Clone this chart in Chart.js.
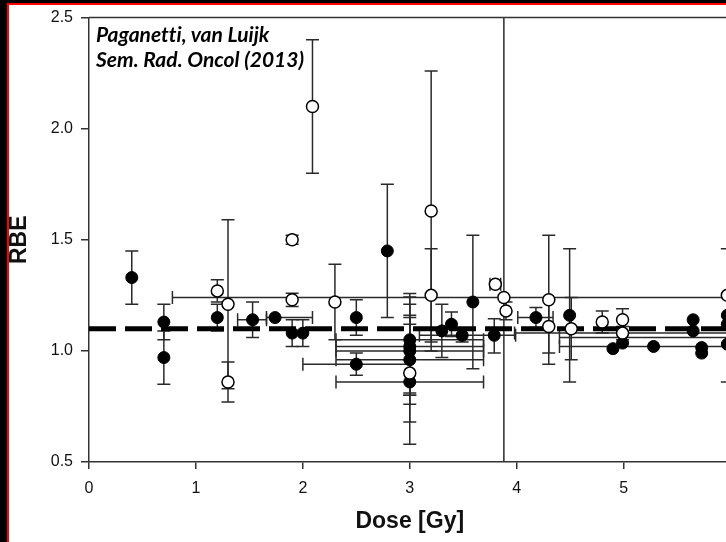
<!DOCTYPE html>
<html>
<head>
<meta charset="utf-8">
<script src="https://cdn.jsdelivr.net/npm/chart.js@4.4.1/dist/chart.umd.min.js"></script>
<style>
  html, body { margin:0; padding:0; background:#000; width:726px; height:542px; overflow:hidden; }
  #frame { position:absolute; left:7px; top:3px; width:760px; height:560px; background:#fff; border:2px solid #ff0000; box-sizing:border-box; }
  #wrap { position:absolute; left:0; top:0; width:745px; height:542px; }
  #note { position:absolute; left:96px; top:21px; font-family:Lato, "Open Sans", sans-serif; font-weight:700; font-style:italic; font-size:21px; line-height:25px; color:#000; white-space:nowrap; font-variant-ligatures:none; }
</style>
</head>
<body>
<div id="frame"></div>
<div id="wrap"><canvas id="c" width="745" height="542"></canvas></div>
<div id="note">Paganetti, van Luijk<br>Sem. Rad. Oncol (2013)</div>
<script>
// ---- data ----
const xTicks = [0, 1, 2, 3, 4, 5, 6];
const yTicks = [0.5, 1.0, 1.5, 2.0, 2.5];
const referenceRBE = 1.1;

// filled circles
const filledDose = [0.40, 0.70, 0.70, 1.20, 1.53, 1.74, 1.90, 2.00, 2.50, 2.50, 2.79, 3.00, 3.00, 3.00, 3.00, 3.00, 3.30, 3.39, 3.49, 3.59, 3.79, 4.18, 4.495, 4.90, 4.99, 5.28, 5.65, 5.65, 5.73, 5.73, 5.97, 5.97, 5.97, 6.30];
const filledRBE  = [1.33, 1.13, 0.97, 1.15, 1.14, 1.15, 1.08, 1.08, 0.94, 1.15, 1.45, 1.05, 1.02, 1.00, 0.96, 0.86, 1.09, 1.12, 1.07, 1.22, 1.07, 1.15, 1.16, 1.01, 1.035, 1.02, 1.14, 1.09, 1.015, 0.99, 1.16, 1.12, 1.03, 1.06];
const filledLow  = [1.21, 1.05, 0.85, 1.09, 1.06, null, 1.02, 1.02, 0.89, 1.07, 1.15, 0.81, 0.80, 0.80, 0.76, 0.58, 0.97, 1.065, 1.04, 0.92, 0.99, 1.105, 0.86, null, null, null, null, null, null, null, 0.86, null, null, null];
const filledHigh = [1.45, 1.21, 1.09, 1.21, 1.22, null, 1.14, 1.14, 0.99, 1.23, 1.75, 1.258, 1.243, 1.21, 1.16, 1.15, 1.21, 1.175, 1.10, 1.52, 1.145, 1.195, 1.46, null, null, null, null, null, null, null, 1.46, null, null, null];
const filledXLow = [null, null, null, null, 1.39, 1.66, null, null, 2.00, null, null, 2.31, 2.31, 2.31, 2.31, 2.31, null, null, 3.09, null, null, 4.01, null, null, null, 4.40, null, null, null, null, null, null, null, 4.40];
const filledXHigh= [null, null, null, null, 1.66, 2.09, null, null, 3.00, null, null, 3.69, 3.69, 3.69, 3.69, 3.69, null, null, 3.99, null, null, 4.34, null, null, null, 6.16, null, null, null, null, null, null, null, 8.20];

// open circles
const openDose = [1.20, 1.30, 1.30, 1.90, 1.90, 2.09, 2.30, 3.00, 3.20, 3.20, 3.80, 3.88, 3.90, 4.30, 4.30, 4.51, 4.80, 4.99, 4.99, 5.97];
const openRBE  = [1.27, 1.21, 0.86, 1.50, 1.23, 2.10, 1.22, 0.90, 1.63, 1.25, 1.30, 1.24, 1.18, 1.23, 1.11, 1.10, 1.13, 1.14, 1.08, 1.25];
const openLow  = [1.22, 0.83, 0.77, 1.48, 1.20, 1.80, 1.05, 0.68, 1.00, 1.04, null, -5.0, 1.14, 0.94, 0.99, 0.96, 1.08, 1.09, 1.05, null];
const openHigh = [1.32, 1.59, 0.95, 1.52, 1.26, 2.40, 1.39, 1.12, 2.26, 1.46, null, 5.0, 1.22, 1.52, 1.23, 1.24, 1.18, 1.19, 1.11, null];
const openXLow = [null, null, null, null, null, null, null, null, null, null, 3.75, 0.78, null, null, null, null, null, null, 3.98, null];
const openXHigh= [null, null, null, null, null, null, null, null, null, null, 3.85, 6.98, null, null, null, null, null, null, 6.00, null];

function build(d, r, lo, hi, xlo, xhi) {
  return d.map((v, i) => ({ x: v, y: r[i], yMin: lo[i], yMax: hi[i], xMin: xlo[i], xMax: xhi[i] }));
}

const errorBars = {
  id: 'errorBars',
  beforeDatasetsDraw(chart) {
    const { ctx, chartArea: a, scales: { x, y } } = chart;
    const cap = 6.5;
    ctx.save();
    ctx.beginPath();
    ctx.rect(a.left, a.top, a.right - a.left, a.bottom - a.top);
    ctx.clip();
    ctx.strokeStyle = '#2a2a2a';
    ctx.lineWidth = 1.5;
    chart.data.datasets.forEach(ds => {
      if (!ds.errorBars) return;
      ds.data.forEach(p => {
        const px = x.getPixelForValue(p.x), py = y.getPixelForValue(p.y);
        ctx.beginPath();
        if (p.yMin != null && p.yMax != null) {
          const y1 = y.getPixelForValue(p.yMin), y2 = y.getPixelForValue(p.yMax);
          ctx.moveTo(px, y1); ctx.lineTo(px, y2);
          ctx.moveTo(px - cap, y1); ctx.lineTo(px + cap, y1);
          ctx.moveTo(px - cap, y2); ctx.lineTo(px + cap, y2);
        }
        if (p.xMin != null && p.xMax != null) {
          const x1 = x.getPixelForValue(p.xMin), x2 = x.getPixelForValue(p.xMax);
          ctx.moveTo(x1, py); ctx.lineTo(x2, py);
          ctx.moveTo(x1, py - cap); ctx.lineTo(x1, py + cap);
          ctx.moveTo(x2, py - cap); ctx.lineTo(x2, py + cap);
        }
        ctx.stroke();
      });
    });
    ctx.restore();
  },
  afterDraw(chart) {
    const { ctx, chartArea: a } = chart;
    ctx.save();
    ctx.strokeStyle = '#333';
    ctx.lineWidth = 1.5;
    ctx.beginPath();
    ctx.moveTo(a.left, a.top); ctx.lineTo(a.right, a.top);
    ctx.stroke();
    ctx.restore();
  }
};

const tickFont = { family: '"Liberation Sans", Arial, sans-serif', size: 16 };
const titleFont = { family: '"Liberation Sans", Arial, sans-serif', size: 23, weight: 'bold' };

new Chart(document.getElementById('c'), {
  type: 'scatter',
  data: {
    datasets: [
      {
        label: 'RBE 1.1', type: 'line',
        data: [{ x: xTicks[0], y: referenceRBE }, { x: xTicks[xTicks.length - 1], y: referenceRBE }],
        borderColor: '#000', borderWidth: 5, borderDash: [27, 9], pointRadius: 0, order: 3
      },
      {
        label: 'filled', data: build(filledDose, filledRBE, filledLow, filledHigh, filledXLow, filledXHigh),
        errorBars: true, pointRadius: 6, pointBackgroundColor: '#000', pointBorderColor: '#000', pointBorderWidth: 1, order: 2
      },
      {
        label: 'open', data: build(openDose, openRBE, openLow, openHigh, openXLow, openXHigh),
        errorBars: true, pointRadius: 6, pointBackgroundColor: '#fff', pointBorderColor: '#000', pointBorderWidth: 1.5, order: 1
      }
    ]
  },
  options: {
    responsive: false, animation: false, devicePixelRatio: 1,
    layout: { padding: { left: 0, top: 13, right: 14, bottom: 0 } },
    plugins: { legend: { display: false }, tooltip: { enabled: false } },
    scales: {
      x: {
        type: 'linear', position: 'bottom', min: xTicks[0], max: xTicks[xTicks.length - 1],
        afterBuildTicks: s => { s.ticks = xTicks.map(v => ({ value: v })); },
        afterFit: s => { s.height = 80; },
        ticks: { font: tickFont, color: '#111', padding: 10, autoSkip: false, maxRotation: 0,
                 callback: v => String(v) },
        grid: { drawOnChartArea: false, drawTicks: true, tickLength: 7, color: '#333', lineWidth: 1.5 },
        border: { display: true, color: '#333', width: 1.5 },
        title: { display: true, text: 'Dose [Gy]', font: titleFont, color: '#111', padding: { top: 0, bottom: 7 } }
      },
      y: {
        type: 'linear', min: yTicks[0], max: yTicks[yTicks.length - 1],
        afterBuildTicks: s => { s.ticks = yTicks.map(v => ({ value: v })); },
        afterFit: s => { s.width = 89; },
        ticks: { font: tickFont, color: '#111', padding: 8, callback: v => Number(v).toFixed(1) },
        grid: { drawOnChartArea: false, drawTicks: true, tickLength: 8, color: '#333', lineWidth: 1.5 },
        border: { display: true, color: '#333', width: 1.5 },
        title: { display: true, text: 'RBE', font: titleFont, color: '#111', padding: { top: 6, bottom: 0 } }
      }
    }
  },
  plugins: [errorBars]
});
</script>
</body>
</html>
